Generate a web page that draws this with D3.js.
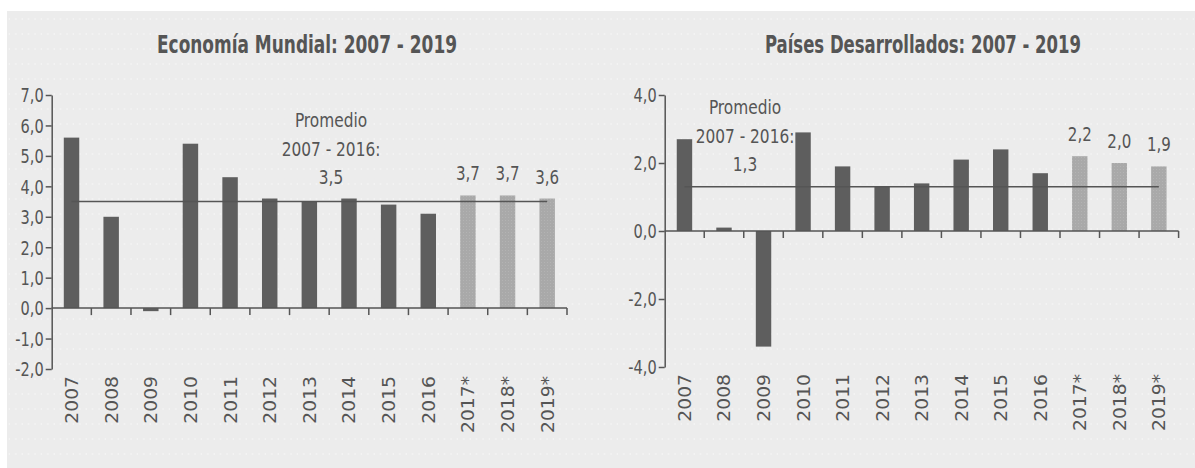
<!DOCTYPE html>
<html>
<head>
<meta charset="utf-8">
<script src="https://cdn.jsdelivr.net/npm/d3@7"></script>
<style>
  body { margin: 0; background: #fff; }
  svg { display: block; }
</style>
</head>
<body>
<div id="chart"></div>
<script>
// data
const years = ["2007", "2008", "2009", "2010", "2011", "2012", "2013", "2014", "2015", "2016", "2017*", "2018*", "2019*"];
const forecast_years = ["2017*", "2018*", "2019*"];
const mundial = [5.6, 3.0, -0.1, 5.4, 4.3, 3.6, 3.5, 3.6, 3.4, 3.1, 3.7, 3.7, 3.6];
const desarrollados = [2.7, 0.1, -3.4, 2.9, 1.9, 1.3, 1.4, 2.1, 2.4, 1.7, 2.2, 2.0, 1.9];
const mundial_ticks = [7, 6, 5, 4, 3, 2, 1, 0, -1, -2];
const desarrollados_ticks = [4, 2, 0, -2, -4];
const mundial_avg = 3.5;
const desarrollados_avg = 1.3;
const avg_label = ["Promedio", "2007 - 2016:"];

const W = 1195, H = 468;
const narrow = "'DejaVu Sans Condensed', 'DejaVu Sans', sans-serif";
const txt = "#555";

const svg = d3.select("#chart").append("svg")
  .attr("width", W)
  .attr("height", H);

// dotted grey background
const defs = svg.append("defs");
const pat = defs.append("pattern")
  .attr("id", "dots")
  .attr("width", 6.4)
  .attr("height", 15)
  .attr("patternUnits", "userSpaceOnUse");
pat.append("rect").attr("width", 6.4).attr("height", 15).attr("fill", "#ececec");
pat.append("circle").attr("cx", 3).attr("cy", 4).attr("r", 0.7).attr("fill", "#fafafa");

const fpat = defs.append("pattern")
  .attr("id", "fdots")
  .attr("width", 3)
  .attr("height", 3)
  .attr("patternUnits", "userSpaceOnUse");
fpat.append("rect").attr("width", 3).attr("height", 3).attr("fill", "#a9a9a9");
fpat.append("circle").attr("cx", 1.5).attr("cy", 1.5).attr("r", 0.5).attr("fill", "#b6b6b6");

svg.append("rect").attr("width", W).attr("height", H).attr("fill", "#fff");
svg.append("rect")
  .attr("x", 7).attr("y", 11)
  .attr("width", W - 7).attr("height", H - 11)
  .attr("fill", "url(#dots)");

function fmt(d) {
  return d3.format(".1f")(d).replace(".", ",").replace("−", "-");
}

// condensed text: place at (x, y) and squeeze horizontally
function squeeze(sel, x, y, sx) {
  return sel.attr("transform", (d, i) =>
    "translate(" + (typeof x === "function" ? x(d, i) : x) + "," + (typeof y === "function" ? y(d, i) : y) + ") scale(" + sx + ",1)");
}

function panel(opts) {
  const g = svg.append("g");
  const x = d3.scaleBand().domain(years).range([opts.x0, opts.x1]);
  const y = d3.scaleLinear().domain([opts.ticks[0], opts.ticks[opts.ticks.length - 1]]).range([95, opts.y1]);
  const bw = x.bandwidth() * 0.39;

  // title
  g.append("text")
    .attr("x", opts.tx - opts.tw / 2)
    .attr("y", 53)
    .attr("textLength", opts.tw)
    .attr("lengthAdjust", "spacingAndGlyphs")
    .attr("font-family", narrow)
    .attr("font-weight", "bold")
    .attr("font-size", 24)
    .attr("fill", txt)
    .text(opts.title);

  // bars
  g.append("g").selectAll("rect")
    .data(opts.values)
    .join("rect")
    .attr("x", (d, i) => x(years[i]) + (x.bandwidth() - bw) / 2)
    .attr("y", d => y(Math.max(0, d)))
    .attr("width", bw)
    .attr("height", d => Math.abs(y(d) - y(0)))
    .attr("fill", (d, i) => forecast_years.includes(years[i]) ? "url(#fdots)" : "#5e5e5e");

  // average line
  g.append("line")
    .attr("x1", x(years[0]) + x.bandwidth() / 2)
    .attr("x2", x(years[years.length - 1]) + x.bandwidth() / 2)
    .attr("y1", y(opts.avg))
    .attr("y2", y(opts.avg))
    .attr("stroke", "#555")
    .attr("stroke-width", 1.6);

  // y axis
  const yax = g.append("g")
    .attr("transform", "translate(" + opts.x0 + ",0)")
    .call(d3.axisLeft(y).tickValues(opts.ticks).tickFormat(fmt).tickSize(6).tickSizeOuter(0).tickPadding(2));
  yax.select(".domain").attr("stroke", "#555").attr("stroke-width", 1.5);
  yax.selectAll(".tick line").attr("stroke", "#555").attr("stroke-width", 1.5);
  yax.selectAll(".tick text")
    .attr("x", null)
    .attr("dy", "0.36em")
    .attr("font-family", narrow)
    .attr("font-size", 19)
    .attr("fill", txt)
    .call(squeeze, -8, 0, 0.85);

  // x axis at zero
  const xg = g.append("g");
  xg.append("line")
    .attr("x1", opts.x0).attr("x2", opts.x1)
    .attr("y1", y(0)).attr("y2", y(0))
    .attr("stroke", "#555").attr("stroke-width", 1.5);
  xg.selectAll(".xt")
    .data(years)
    .join("line")
    .attr("class", "xt")
    .attr("x1", d => x(d) + x.bandwidth())
    .attr("x2", d => x(d) + x.bandwidth())
    .attr("y1", y(0))
    .attr("y2", y(0) + 7)
    .attr("stroke", "#555").attr("stroke-width", 1.5);

  // year labels
  g.append("g").selectAll("text")
    .data(years)
    .join("text")
    .attr("transform", d => "translate(" + (x(d) + x.bandwidth() / 2 + 6.5) + "," + (opts.y1 + 7) + ") rotate(-90) scale(1.04,1)")
    .attr("text-anchor", "end")
    .attr("font-family", "'DejaVu Sans', Verdana, sans-serif")
    .attr("font-size", 18)
    .attr("fill", txt)
    .text(d => d);

  // forecast value labels
  g.append("g").selectAll("text")
    .data(years.map((d, i) => ({ year: d, v: opts.values[i] })).filter(d => forecast_years.includes(d.year)))
    .join("text")
    .attr("text-anchor", "middle")
    .attr("font-family", narrow)
    .attr("font-size", 19)
    .attr("fill", txt)
    .text(d => fmt(d.v))
    .call(squeeze, d => x(d.year) + x.bandwidth() / 2, d => y(d.v) - 15, 0.88);

  // average annotation
  const lines = avg_label.concat([fmt(opts.avg)]);
  g.append("g").selectAll("text")
    .data(lines)
    .join("text")
    .attr("text-anchor", "middle")
    .attr("font-family", narrow)
    .attr("font-size", 19)
    .attr("fill", txt)
    .text(d => d)
    .call(squeeze, opts.ax, (d, i) => opts.ay + i * 28.5, 0.9);
}

panel({
  title: "Economía Mundial: 2007 - 2019",
  tx: 307, tw: 300,
  x0: 51.7, x1: 567, y1: 369,
  ticks: mundial_ticks,
  values: mundial,
  avg: mundial_avg,
  ax: 331, ay: 127
});

panel({
  title: "Países Desarrollados: 2007 - 2019",
  tx: 923, tw: 316,
  x0: 664.7, x1: 1178.6, y1: 367,
  ticks: desarrollados_ticks,
  values: desarrollados,
  avg: desarrollados_avg,
  ax: 745, ay: 114
});
</script>
</body>
</html>
